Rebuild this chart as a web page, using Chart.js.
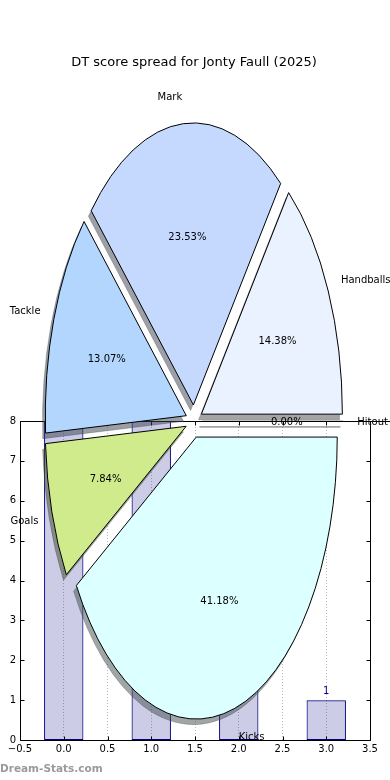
<!DOCTYPE html>
<html><head><meta charset="utf-8">
<script src="https://cdn.jsdelivr.net/npm/chart.js@4.4.1/dist/chart.umd.min.js"></script>
<style>
html,body{margin:0;padding:0;background:#fff;}
#wrap{position:relative;width:390px;height:780px;overflow:hidden;background:#fff;}
#wrap canvas{position:absolute;left:0;top:0;}
#wm{position:absolute;left:0;top:762px;font:bold 10.5px 'DejaVu Sans',sans-serif;color:#9a9a9a;white-space:nowrap;}
</style></head><body>
<div id="wrap">
<canvas id="bars" width="390" height="780"></canvas>
<canvas id="pie" width="390" height="780"></canvas>
<div id="wm">Dream-Stats.com</div>
</div>
<script>
// ---- data ----
const titleText = 'DT score spread for Jonty Faull (2025)';
const pieLabels = ['Kicks', 'Goals', 'Tackle', 'Mark', 'Handballs', 'Hitout'];
const pieValues = [63, 12, 20, 36, 22, 0];
const pieColors = ['#dcffff', '#d0eb8c', '#b3d6ff', '#c5d9ff', '#ebf2ff', '#f2f2f2'];
const barX = [0, 1, 2, 3];
const barValues = [8, 8, 5, 1];
const xTicks = [-0.5, 0, 0.5, 1, 1.5, 2, 2.5, 3, 3.5];
const yTicks = [0, 1, 2, 3, 4, 5, 6, 7, 8];

// ---- style constants ----
const FONT = "'DejaVu Sans', sans-serif";
const Y_STRETCH = 2.0;
const EXPLODE = 8.2;
const SHADOW_DX = -2.8, SHADOW_DY = 5.6;
const LABEL_DIST = 1.1, PCT_DIST = 0.6;
const TEXT_DY = 1.5;

Chart.defaults.font.family = FONT;
Chart.defaults.font.size = 10;
Chart.defaults.color = '#000';

function shadowColor(hex) {
  const n = parseInt(hex.slice(1), 16);
  const r = (n >> 16) & 255, g = (n >> 8) & 255, b = n & 255;
  return `rgba(${Math.round(r * 0.3)},${Math.round(g * 0.3)},${Math.round(b * 0.3)},0.5)`;
}
function fmtX(v) {
  return (v < 0 ? '\u2212' : '') + Math.abs(v).toFixed(1);
}

// ---- bar chart (background axes) ----
const barExtras = {
  id: 'barExtras',
  afterDraw(chart) {
    const {ctx, chartArea: a, scales: {x, y}} = chart;
    const L = Math.round(a.left) + 0.5, R = Math.round(a.right) + 0.5;
    const T = Math.round(a.top) + 0.5, B = Math.round(a.bottom) + 0.5;
    ctx.save();
    ctx.strokeStyle = '#000';
    ctx.lineWidth = 1;
    const line = (x1, y1, x2, y2) => { ctx.beginPath(); ctx.moveTo(x1, y1); ctx.lineTo(x2, y2); ctx.stroke(); };
    line(L, T, L, B); line(L, B, R, B); line(R, T, R, B); line(L, T, chart.width, T);
    y.ticks.forEach(t => {
      const py = Math.round(y.getPixelForValue(t.value)) + 0.5;
      line(L, py, L + 4, py); line(R - 4, py, R, py);
    });
    x.ticks.forEach(t => {
      const px = Math.round(x.getPixelForValue(t.value)) + 0.5;
      line(px, B, px, B - 4); line(px, T, px, T + 4);
    });
    const meta = chart.getDatasetMeta(0);
    ctx.fillStyle = '#000080';
    ctx.font = '10px ' + FONT;
    ctx.textAlign = 'center';
    ctx.textBaseline = 'bottom';
    meta.data.forEach((bar, i) => ctx.fillText(String(barValues[i]), bar.x, bar.y - 4));
    ctx.restore();
  }
};

new Chart(document.getElementById('bars'), {
  type: 'bar',
  data: {
    datasets: [{
      data: barX.map((x, i) => ({x: x, y: barValues[i]})),
      backgroundColor: 'rgba(0,0,128,0.2)',
      borderColor: '#000080',
      borderWidth: 1,
      borderSkipped: false,
      barPercentage: 0.9,
      categoryPercentage: 1.0
    }]
  },
  options: {
    responsive: false, animation: false, events: [], devicePixelRatio: 1,
    layout: {padding: {left: 0, right: 20, top: 421, bottom: 0}},
    plugins: {legend: {display: false}, tooltip: {enabled: false}, title: {display: false}},
    scales: {
      x: {
        type: 'linear', min: -0.5, max: 3.5, offset: false,
        afterBuildTicks: s => { s.ticks = xTicks.map(v => ({value: v})); },
        afterFit: s => { s.height = 40; },
        grid: {color: '#b8b8b8', lineWidth: 1, drawTicks: false, offset: false, borderDash: [1, 2]},
        border: {display: false, dash: [1, 2]},
        ticks: {padding: 3, maxRotation: 0, autoSkip: false, callback: v => fmtX(v)}
      },
      y: {
        min: 0, max: 8,
        afterBuildTicks: s => { s.ticks = yTicks.map(v => ({value: v})); },
        afterFit: s => { s.width = 20; },
        grid: {display: false, drawTicks: false},
        border: {display: false},
        ticks: {padding: 4}
      }
    }
  },
  plugins: [barExtras]
});

// ---- pie chart (elliptical, exploded, with shadows) ----
const ellipsePie = {
  id: 'ellipsePie',
  beforeDatasetsDraw(chart) {
    const ctx = chart.ctx;
    const arcs = chart.getDatasetMeta(0).data;
    const ds = chart.data.datasets[0];
    const cx = arcs[0].x, cy = arcs[0].y;
    const origStroke = CanvasRenderingContext2D.prototype.stroke;
    ctx.stroke = function () { this.save(); this.setTransform(1, 0, 0, 1, 0, 0); origStroke.apply(this, arguments); this.restore(); };
    ctx.save();
    ctx.translate(cx, cy); ctx.scale(1, Y_STRETCH); ctx.translate(-cx, -cy);
    const withOpts = (arc, over) => {
      const saved = arc.options;
      const o = Object.create(saved);
      Object.assign(o, over);
      arc.options = o;
      arc.draw(ctx);
      arc.options = saved;
    };
    const spoke = (arc, color, width) => {
      const a = arc.startAngle;
      ctx.beginPath();
      ctx.moveTo(arc.x, arc.y);
      ctx.lineTo(arc.x + arc.outerRadius * Math.cos(a), arc.y + arc.outerRadius * Math.sin(a));
      ctx.strokeStyle = color; ctx.lineWidth = width; ctx.stroke();
    };
    const shift = arc => {
      const m = (arc.startAngle + arc.endAngle) / 2;
      ctx.translate(Math.cos(m) * EXPLODE, Math.sin(m) * EXPLODE);
    };
    const order = arcs.map((_, i) => i).reverse();
    order.forEach(i => {
      const arc = arcs[i];
      const sc = shadowColor(ds.backgroundColor[i]);
      ctx.save(); shift(arc); ctx.translate(SHADOW_DX, SHADOW_DY / Y_STRETCH);
      if (arc.circumference === 0) spoke(arc, sc, 1.6);
      else withOpts(arc, {backgroundColor: sc, borderColor: sc, borderWidth: 0.6});
      ctx.restore();
    });
    order.forEach(i => {
      const arc = arcs[i];
      ctx.save(); shift(arc);
      if (arc.circumference === 0) spoke(arc, '#000', 1);
      else withOpts(arc, {});
      ctx.restore();
    });
    ctx.restore();
    delete ctx.stroke;

    const total = ds.data.reduce((s, v) => s + v, 0);
    ctx.save();
    ctx.font = '10px ' + FONT;
    ctx.fillStyle = '#000';
    ctx.textBaseline = 'middle';
    arcs.forEach((arc, i) => {
      const m = (arc.startAngle + arc.endAngle) / 2;
      const dx = Math.cos(m), dy = Math.sin(m), r = arc.outerRadius;
      const ld = EXPLODE + LABEL_DIST * r, pd = EXPLODE + PCT_DIST * r;
      ctx.textAlign = dx > 0 ? 'left' : 'right';
      ctx.fillText(chart.data.labels[i], cx + ld * dx, cy + Y_STRETCH * ld * dy + TEXT_DY);
      ctx.textAlign = 'center';
      ctx.fillText((100 * ds.data[i] / total).toFixed(2) + '%', cx + pd * dx, cy + Y_STRETCH * pd * dy + TEXT_DY);
    });
    ctx.restore();
    return false;
  }
};

new Chart(document.getElementById('pie'), {
  type: 'pie',
  data: {
    labels: pieLabels,
    datasets: [{
      data: pieValues,
      backgroundColor: pieColors,
      borderColor: '#000',
      borderWidth: 1,
      borderJoinStyle: 'miter',
      radius: 141,
      offset: 0
    }]
  },
  options: {
    responsive: false, animation: false, events: [], devicePixelRatio: 1,
    rotation: 90,
    layout: {padding: {top: 0, left: 0, right: 2, bottom: 8}},
    plugins: {
      legend: {display: false}, tooltip: {enabled: false},
      title: {display: true, text: titleText, color: '#000', font: {family: FONT, size: 13, weight: 'normal'}, padding: {top: 55, bottom: 0}}
    }
  },
  plugins: [ellipsePie]
});
</script>
</body></html>
